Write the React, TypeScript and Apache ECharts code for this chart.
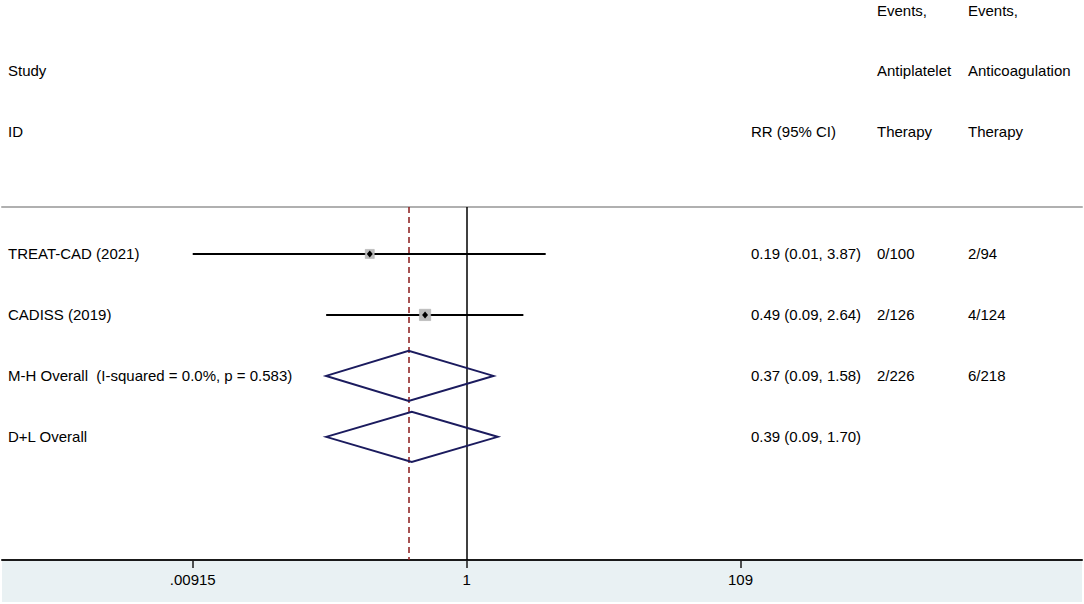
import React, { useEffect, useRef } from "react";
import * as echarts from "echarts";

// ---- data ----
const studyNames = ["TREAT-CAD (2021)", "CADISS (2019)"];
const studyRR = [0.19, 0.49];
const studyLow = [0.00915, 0.09];
const studyHigh = [3.87, 2.64];
const studyWeight = [39.0, 61.0];
const eventsAntiplatelet = ["0/100", "2/126"];
const eventsAnticoag = ["2/94", "4/124"];

const pooledNames = ["M-H Overall  (I-squared = 0.0%, p = 0.583)", "D+L Overall"];
const pooledRR = [0.37, 0.39];
const pooledLow = [0.09, 0.09];
const pooledHigh = [1.58, 1.7];
const pooledEventsAntiplatelet = ["2/226", ""];
const pooledEventsAnticoag = ["6/218", ""];

const tickValues = [0.00915, 1, 109];
const tickLabels = [".00915", "1", "109"];

const FONT = "'Liberation Sans', Arial, Helvetica, sans-serif";
const log = (v: number) => Math.log10(v);
const fmt = (v: number) => v.toFixed(2);

export default function App() {
  const ref = useRef<HTMLDivElement>(null);
  useEffect(() => {
    if (!ref.current) return;
    const chart = echarts.init(ref.current, null, { renderer: "svg" });

    const studyData = studyNames.map((_, i) => [
      log(studyRR[i]), i + 1, log(studyLow[i]), log(studyHigh[i]), studyWeight[i],
    ]);
    const pooledData = pooledNames.map((_, i) => [
      log(pooledRR[i]), studyNames.length + i + 1, log(pooledLow[i]), log(pooledHigh[i]),
    ]);

    const rowNames = [...studyNames, ...pooledNames];
    const rowCI = [
      ...studyNames.map((_, i) => `${fmt(studyRR[i])} (${fmt(studyLow[i])}, ${fmt(studyHigh[i])})`),
      ...pooledNames.map((_, i) => `${fmt(pooledRR[i])} (${fmt(pooledLow[i])}, ${fmt(pooledHigh[i])})`),
    ];
    const rowEvA = [...eventsAntiplatelet, ...pooledEventsAntiplatelet];
    const rowEvB = [...eventsAnticoag, ...pooledEventsAnticoag];
    const textData = rowNames.map((_, i) => [0, i + 1, i]);

    const colX = [8, 751, 877, 968];
    const txtStyle = (text: string, x: number, y: number) => ({
      type: "text",
      x,
      y,
      style: { text, fill: "#000", font: `15px ${FONT}`, textVerticalAlign: "middle" },
    });

    const xMin = -3.4576;
    const xMax = 4.578;

    const option: any = {
      animation: false,
      backgroundColor: "#ffffff",
      grid: { left: 2, right: 2, top: 207, bottom: 44 },
      xAxis: [
        {
          type: "value",
          min: xMin,
          max: xMax,
          position: "bottom",
          splitLine: { show: false },
          axisLine: { show: true, onZero: false, lineStyle: { color: "#1a1a1a", width: 2 } },
          axisTick: {
            show: true,
            customValues: tickValues.map(log),
            length: 8,
            lineStyle: { color: "#1a1a1a", width: 1.5 },
          },
          axisLabel: {
            show: true,
            customValues: tickValues.map(log),
            margin: 12,
            color: "#000",
            fontSize: 15,
            fontFamily: FONT,
            formatter: (v: number) => {
              const idx = tickValues.findIndex((t) => Math.abs(log(t) - v) < 1e-6);
              return idx >= 0 ? tickLabels[idx] : "";
            },
          },
        },
        {
          type: "value",
          min: xMin,
          max: xMax,
          position: "top",
          splitLine: { show: false },
          axisLine: { show: true, onZero: false, lineStyle: { color: "#b0b0b0", width: 2 } },
          axisTick: { show: false },
          axisLabel: { show: false },
        },
      ],
      yAxis: {
        type: "value",
        inverse: true,
        min: 0.23,
        max: 6.02,
        show: false,
      },
      graphic: [
        {
          type: "rect",
          z: -10,
          shape: { x: 2, y: 561, width: 1080, height: 41 },
          style: { fill: "#e9f1f3" },
          silent: true,
        },
        ...[
          ["Events,", 877, 10],
          ["Events,", 968, 10],
          ["Study", 8, 70],
          ["Antiplatelet", 877, 70],
          ["Anticoagulation", 968, 70],
          ["ID", 8, 131],
          ["RR (95% CI)", 751, 131],
          ["Therapy", 877, 131],
          ["Therapy", 968, 131],
        ].map(([t, x, y]) => ({
          type: "text",
          x: x as number,
          y: y as number,
          style: { text: t as string, fill: "#000", font: `15px ${FONT}`, textVerticalAlign: "middle" },
        })),
      ],
      series: [
        {
          type: "custom",
          name: "reference",
          data: [],
          renderItem: () => ({ type: "group", children: [] }),
          markLine: {
            silent: true,
            symbol: "none",
            label: { show: false },
            data: [
              { xAxis: 0, lineStyle: { color: "#000", width: 1.5, type: "solid" } },
              { xAxis: log(pooledRR[0]), lineStyle: { color: "#8b1a1a", width: 1.5, type: [6, 4] } },
            ],
          },
        },
        {
          type: "custom",
          name: "studies",
          data: studyData,
          z: 5,
          renderItem: (params: any, api: any) => {
            const est = api.coord([api.value(0), api.value(1)]);
            const lo = api.coord([api.value(2), api.value(1)]);
            const hi = api.coord([api.value(3), api.value(1)]);
            const side = 1.45 * Math.sqrt(api.value(4));
            const d = 3.5;
            return {
              type: "group",
              children: [
                {
                  type: "line",
                  shape: { x1: lo[0], y1: lo[1], x2: hi[0], y2: hi[1] },
                  style: { stroke: "#000", lineWidth: 2 },
                },
                {
                  type: "rect",
                  shape: { x: est[0] - side / 2, y: est[1] - side / 2, width: side, height: side },
                  style: { fill: "#bdbdbd", stroke: "#a8a8a8", lineWidth: 0.5 },
                },
                {
                  type: "polygon",
                  shape: {
                    points: [
                      [est[0], est[1] - d],
                      [est[0] + d * 0.85, est[1]],
                      [est[0], est[1] + d],
                      [est[0] - d * 0.85, est[1]],
                    ],
                  },
                  style: { fill: "#000" },
                },
              ],
            };
          },
        },
        {
          type: "custom",
          name: "pooled",
          data: pooledData,
          z: 5,
          renderItem: (params: any, api: any) => {
            const est = api.coord([api.value(0), api.value(1)]);
            const lo = api.coord([api.value(2), api.value(1)]);
            const hi = api.coord([api.value(3), api.value(1)]);
            const h = api.size([0, 1])[1] * 0.41;
            return {
              type: "polygon",
              shape: {
                points: [
                  [lo[0], lo[1]],
                  [est[0], est[1] - h],
                  [hi[0], hi[1]],
                  [est[0], est[1] + h],
                ],
              },
              style: { fill: "none", stroke: "#1b1b5e", lineWidth: 2 },
            };
          },
        },
        {
          type: "custom",
          name: "texts",
          data: textData,
          z: 6,
          renderItem: (params: any, api: any) => {
            const i = api.value(2);
            const y = api.coord([0, api.value(1)])[1];
            return {
              type: "group",
              children: [
                txtStyle(rowNames[i], colX[0], y),
                txtStyle(rowCI[i], colX[1], y),
                txtStyle(rowEvA[i], colX[2], y),
                txtStyle(rowEvB[i], colX[3], y),
              ],
            };
          },
        },
      ],
    };
    chart.setOption(option);
    return () => chart.dispose();
  }, []);
  return (
    <div
      ref={ref}
      style={{ position: "fixed", left: 0, top: 0, width: 1084, height: 604 }}
    />
  );
}
